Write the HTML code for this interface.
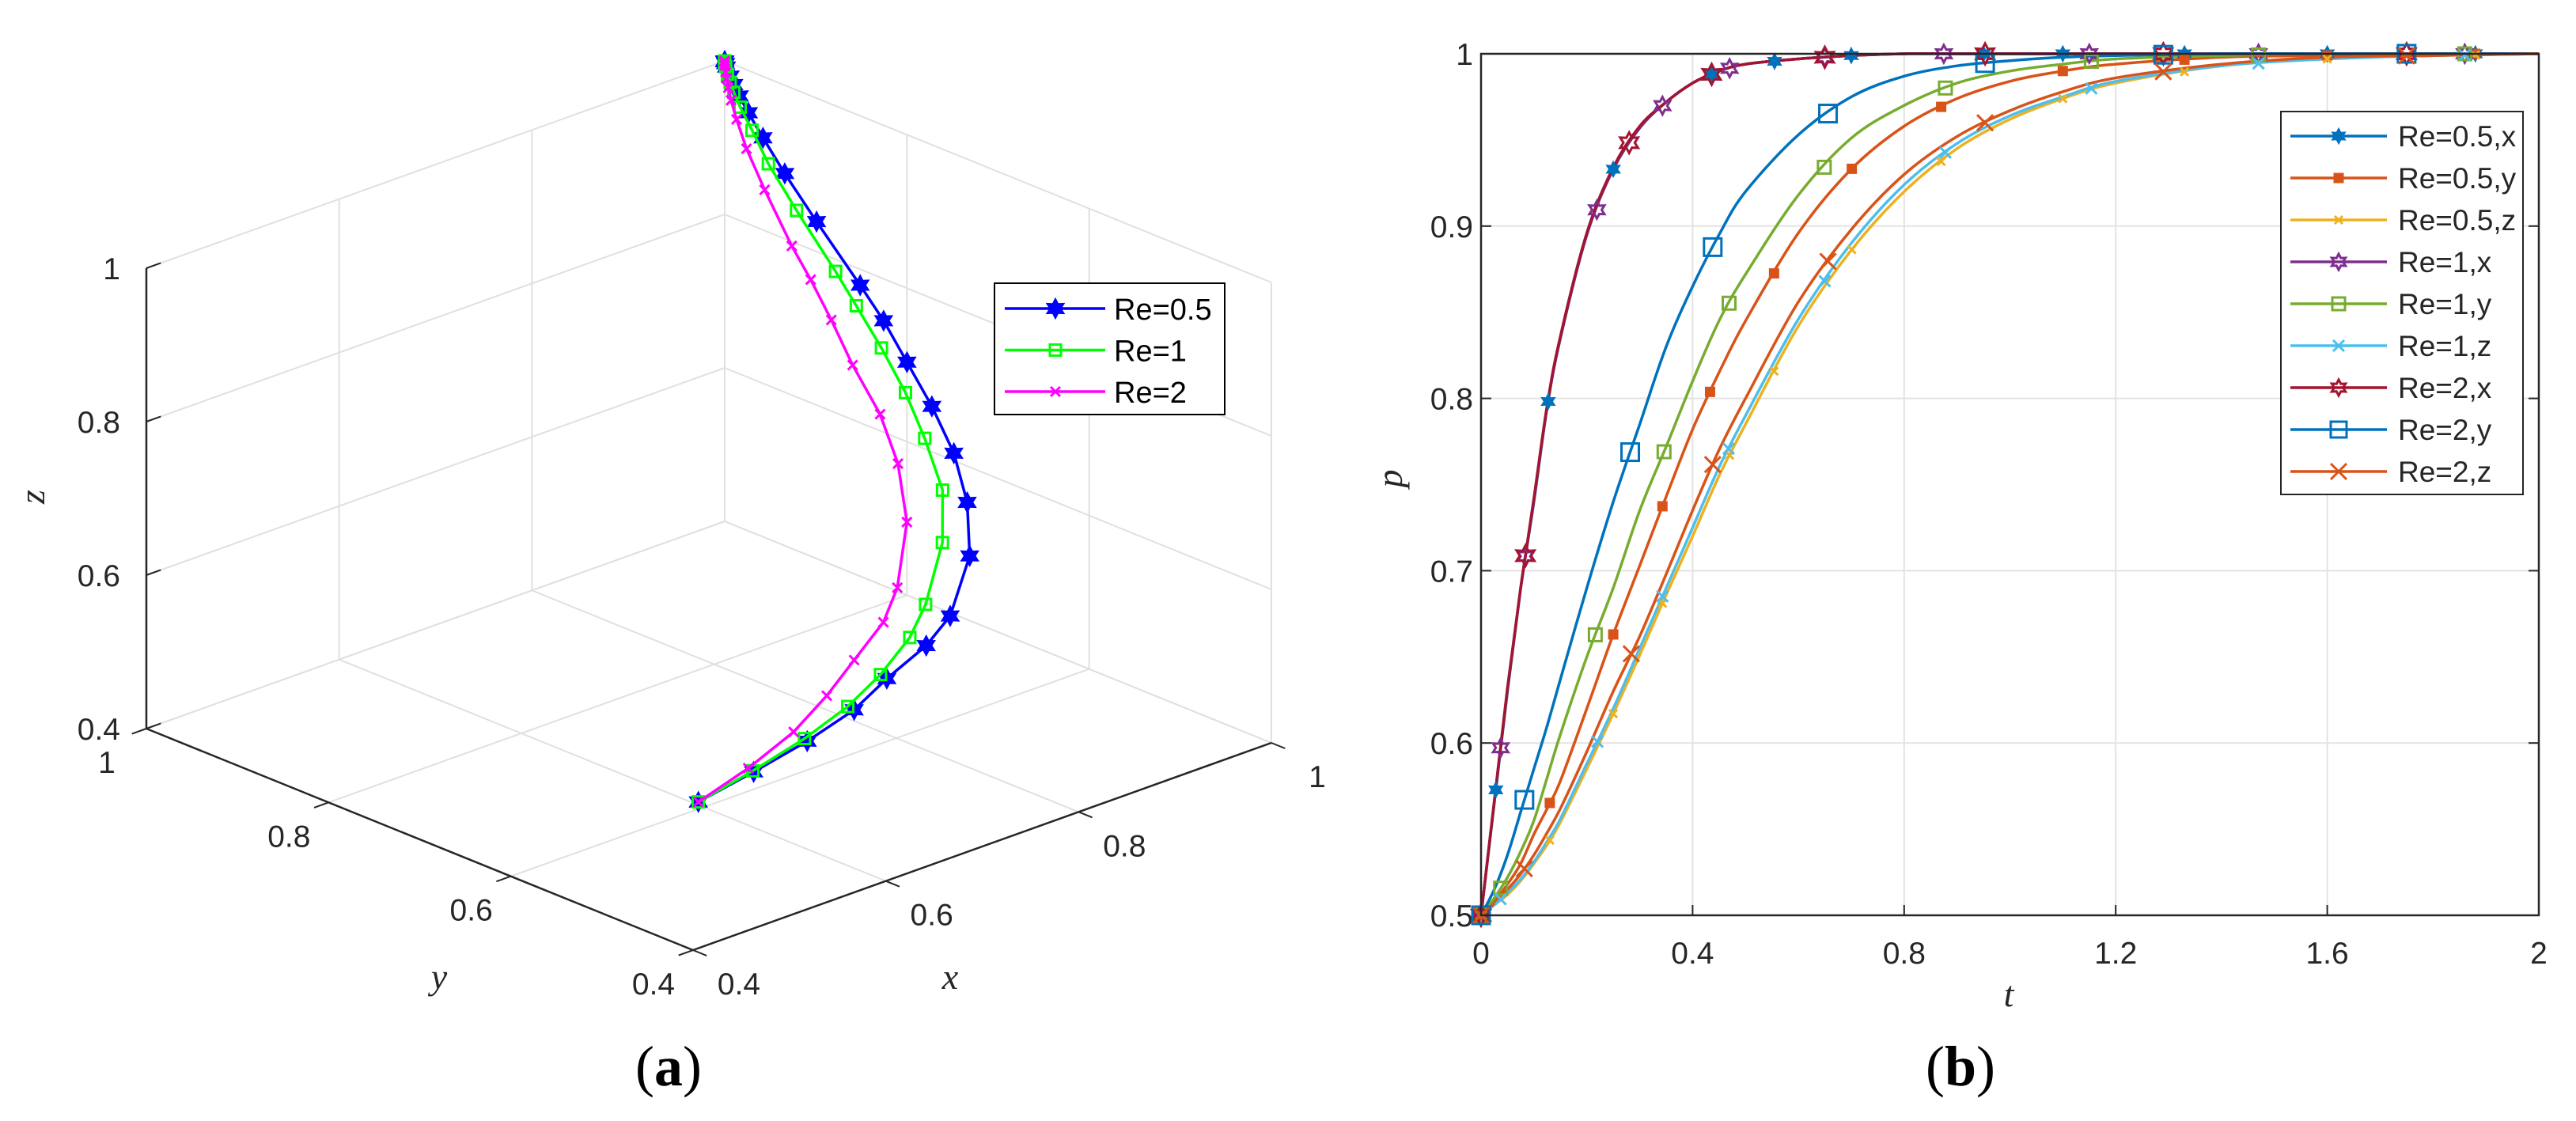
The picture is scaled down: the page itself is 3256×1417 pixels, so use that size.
<!DOCTYPE html>
<html><head><meta charset="utf-8"><style>
html,body{margin:0;padding:0;background:#fff;}
svg{display:block;}
text{font-family:"Liberation Sans",sans-serif;fill:#262626;}
</style></head><body>
<svg id="fig" xmlns="http://www.w3.org/2000/svg" width="3256" height="1417" viewBox="0 0 3256 1417">
<rect width="3256" height="1417" fill="#fff"/>
<g id="panelA"></g>
<g id="panelB"></g>
<text x="845" y="1372" text-anchor="middle" style="font-family:'Liberation Serif',serif;font-size:72px;fill:#000">(<tspan font-weight="bold">a</tspan>)</text>
<text x="2478" y="1372" text-anchor="middle" style="font-family:'Liberation Serif',serif;font-size:72px;fill:#000">(<tspan font-weight="bold">b</tspan>)</text>
</svg>
<script>
// ---- data ----
const tGrid = [0,0.025,0.05,0.075,0.1,0.125,0.15,0.2,0.25,0.3,0.35,0.4,0.45,0.5,0.6,0.7,0.8,0.9,1.0,1.1,1.2,1.4,1.6,1.8,2.0];
const re05x = [0.5,0.565,0.63,0.69,0.74,0.795,0.835,0.895,0.933,0.957,0.972,0.983,0.99,0.994,0.997,0.999,1,1,1,1,1,1,1,1,1];
const re05y = [0.5,0.508,0.518,0.53,0.547,0.562,0.578,0.62,0.663,0.703,0.743,0.782,0.815,0.845,0.896,0.933,0.958,0.974,0.984,0.99,0.994,0.998,0.999,1,1];
const re05z = [0.5,0.506,0.512,0.52,0.53,0.541,0.554,0.585,0.617,0.651,0.686,0.72,0.755,0.785,0.842,0.886,0.92,0.945,0.962,0.974,0.983,0.993,0.997,0.999,1];
const re1x = [0.5,0.566,0.631,0.69,0.741,0.795,0.835,0.895,0.933,0.957,0.972,0.983,0.99,0.994,0.997,0.999,1,1,1,1,1,1,1,1,1];
const re1y = [0.5,0.51,0.522,0.537,0.555,0.58,0.605,0.65,0.69,0.735,0.772,0.81,0.845,0.872,0.918,0.951,0.97,0.983,0.99,0.994,0.997,0.999,1,1,1];
const re1z = [0.5,0.506,0.513,0.521,0.531,0.543,0.556,0.588,0.62,0.655,0.69,0.725,0.76,0.79,0.846,0.89,0.924,0.948,0.964,0.975,0.984,0.993,0.997,0.999,1];
const re2x = [0.5,0.566,0.632,0.69,0.742,0.796,0.836,0.896,0.934,0.958,0.972,0.983,0.99,0.994,0.997,0.999,1,1,1,1,1,1,1,1,1];
const re2y = [0.5,0.515,0.535,0.56,0.585,0.61,0.637,0.69,0.74,0.785,0.83,0.865,0.895,0.92,0.953,0.975,0.987,0.993,0.996,0.998,0.999,1,1,1,1];
const re2z = [0.5,0.507,0.515,0.524,0.535,0.548,0.562,0.595,0.63,0.662,0.698,0.735,0.77,0.80,0.856,0.898,0.93,0.952,0.967,0.978,0.986,0.994,0.998,0.999,1];
const xTicksB = [0,0.4,0.8,1.2,1.6,2];
const xTickLabelsB = ["0","0.4","0.8","1.2","1.6","2"];
const yTicksB = [0.5,0.6,0.7,0.8,0.9,1];
const yTickLabelsB = ["0.5","0.6","0.7","0.8","0.9","1"];
const legendB = ["Re=0.5,x","Re=0.5,y","Re=0.5,z","Re=1,x","Re=1,y","Re=1,z","Re=2,x","Re=2,y","Re=2,z"];
const markerT05x = [0,0.028,0.127,0.25,0.436,0.555,0.7,0.95,1.1,1.33,1.6,1.88];
const markerT05y = [0,0.13,0.25,0.343,0.433,0.554,0.701,0.87,1.1,1.33,1.6,1.88];
const markerT05z = [0,0.13,0.25,0.343,0.47,0.554,0.701,0.87,1.1,1.33,1.6,1.88];
const markerT1x = [0,0.037,0.084,0.219,0.343,0.47,0.65,0.875,1.15,1.47,1.86];
const markerT1y = [0,0.037,0.216,0.346,0.469,0.649,0.878,1.154,1.47,1.86];
const markerT1z = [0,0.037,0.22,0.343,0.468,0.65,0.878,1.154,1.47,1.86];
const markerT2x = [0,0.084,0.28,0.436,0.65,0.953,1.29,1.75];
const markerT2y = [0,0.082,0.282,0.438,0.656,0.953,1.29,1.75];
const markerT2z = [0,0.082,0.284,0.438,0.656,0.953,1.29,1.75];
const zTicksA = [0.4,0.6,0.8,1];
const tickLabelsA = ["0.4","0.6","0.8","1"];
const legendA = ["Re=0.5","Re=1","Re=2"];

const NS = "http://www.w3.org/2000/svg";
function mk(tag, attrs, parent){const e=document.createElementNS(NS,tag);for(const k in attrs)e.setAttribute(k,attrs[k]);parent.appendChild(e);return e;}
function interp(t, arr){
  if(t<=tGrid[0])return arr[0];
  for(let i=1;i<tGrid.length;i++){if(t<=tGrid[i]){const f=(t-tGrid[i-1])/(tGrid[i]-tGrid[i-1]);return arr[i-1]+f*(arr[i]-arr[i-1]);}}
  return arr[arr.length-1];
}
function marker(g, type, cx, cy, s, color){
  let e;
  if(type==="hex"||type==="star"){
    const pts=[];
    for(let i=0;i<12;i++){const a=-Math.PI/2+i*Math.PI/6;const r=i%2===0?s:s*0.55;pts.push((cx+r*Math.cos(a)).toFixed(1)+","+(cy+r*Math.sin(a)).toFixed(1));}
    e=mk("polygon",{points:pts.join(" "),fill:type==="star"?color:"none",stroke:color,"stroke-width":3},g);
  } else if(type==="sq"||type==="sqf"){
    e=mk("rect",{x:cx-s,y:cy-s,width:2*s,height:2*s,fill:type==="sqf"?color:"none",stroke:color,"stroke-width":3},g);
  } else {
    e=mk("path",{d:`M${cx-s},${cy-s}L${cx+s},${cy+s}M${cx-s},${cy+s}L${cx+s},${cy-s}`,stroke:color,"stroke-width":3,fill:"none"},g);
  }
  
  
  return e;
}

// ---- panel B ----
const gB=document.getElementById("panelB");
const L=1872,R=3209,T=68,B=1157;
const X=t=>L+t/2*(R-L);
const Y=p=>B-(p-0.5)/0.5*(B-T);
xTicksB.forEach((t,i)=>{
  if(i>0&&i<xTicksB.length-1){const gl=mk("line",{x1:X(t),x2:X(t),y1:T,y2:B,stroke:"#e3e3e3","stroke-width":2},gB);}
  const tk=mk("line",{x1:X(t),x2:X(t),y1:B,y2:B-13,stroke:"#262626","stroke-width":2},gB);
  
  const tx=mk("text",{x:X(t),y:1218,"text-anchor":"middle","font-size":39},gB);tx.textContent=xTickLabelsB[i];
  
});
yTicksB.forEach((p,i)=>{
  if(i>0&&i<yTicksB.length-1){const gl=mk("line",{x1:L,x2:R,y1:Y(p),y2:Y(p),stroke:"#e3e3e3","stroke-width":2},gB);}
  const tk=mk("line",{x1:L,x2:L+13,y1:Y(p),y2:Y(p),stroke:"#262626","stroke-width":2},gB);
  
  const tk2=mk("line",{x1:R,x2:R-13,y1:Y(p),y2:Y(p),stroke:"#262626","stroke-width":2},gB);
  
  const tx=mk("text",{x:L-10,y:Y(p)+14,"text-anchor":"end","font-size":39},gB);tx.textContent=yTickLabelsB[i];
  
});
const seriesB=[
 {v:re05x,c:"#0072BD",m:"star",s:8,mt:markerT05x},
 {v:re05y,c:"#D95319",m:"sqf",s:5,mt:markerT05y},
 {v:re05z,c:"#EDB120",m:"x",s:5,mt:markerT05z},
 {v:re1x,c:"#7E2F8E",m:"hex",s:11,mt:markerT1x},
 {v:re1y,c:"#77AC30",m:"sq",s:8,mt:markerT1y},
 {v:re1z,c:"#4DBEEE",m:"x",s:7,mt:markerT1z},
 {v:re2x,c:"#A2142F",m:"hex",s:13,mt:markerT2x},
 {v:re2y,c:"#0072BD",m:"sq",s:11,mt:markerT2y},
 {v:re2z,c:"#D95319",m:"x",s:10,mt:markerT2z}
];
// smooth path via Catmull-Rom
function smoothPath(pts){
  let d=`M${pts[0][0].toFixed(1)},${pts[0][1].toFixed(1)}`;
  for(let i=0;i<pts.length-1;i++){
    const p0=pts[Math.max(0,i-1)],p1=pts[i],p2=pts[i+1],p3=pts[Math.min(pts.length-1,i+2)];
    const c1=[p1[0]+(p2[0]-p0[0])/6,p1[1]+(p2[1]-p0[1])/6],c2=[p2[0]-(p3[0]-p1[0])/6,p2[1]-(p3[1]-p1[1])/6];
    d+=`C${c1[0].toFixed(1)},${c1[1].toFixed(1)} ${c2[0].toFixed(1)},${c2[1].toFixed(1)} ${p2[0].toFixed(1)},${p2[1].toFixed(1)}`;
  }
  return d;
}
seriesB.forEach((s,k)=>{
  const pts=tGrid.map((t,i)=>[X(t),Y(s.v[i])]);
  const pa=mk("path",{d:smoothPath(pts),fill:"none",stroke:s.c,"stroke-width":3.5},gB);
  
  
});
seriesB.forEach(s=>{s.mt.forEach(t=>marker(gB,s.m,X(t),Y(interp(t,s.v)),s.s,s.c));});
const box=mk("rect",{x:L,y:T,width:R-L,height:B-T,fill:"none",stroke:"#262626","stroke-width":2.5},gB);

// legend
const lg=mk("g",{},gB);
const lr=mk("rect",{x:2883,y:141,width:306,height:484,fill:"#fff",stroke:"#262626","stroke-width":2},lg);

legendB.forEach((lab,i)=>{
  const y=172+i*53,s=seriesB[i];
  const ln=mk("line",{x1:2895,x2:3017,y1:y,y2:y,stroke:s.c,"stroke-width":3.5},lg);
  
  marker(lg,s.m,2956,y,Math.min(s.s,10),s.c);
  const tx=mk("text",{x:3031,y:y+13,"font-size":37},lg);tx.textContent=lab;
  
});
const xl=mk("text",{x:2539,y:1272,"text-anchor":"middle","font-size":46,style:"font-family:'Liberation Serif',serif;font-style:italic"},gB);xl.textContent="t";

const yl=mk("text",{x:0,y:0,"text-anchor":"middle","font-size":46,transform:"translate(1772,605) rotate(-90)",style:"font-family:'Liberation Serif',serif;font-style:italic"},gB);yl.textContent="p";


// ---- panel A (3D) ----
const gA=document.getElementById("panelA");
function P(x,y,z){const a=(x-0.4)/0.6,b=(y-0.4)/0.6,c=(z-0.4)/0.6;return[876+a*731-b*691,1201-a*262-b*280-c*582];}
function line3(p,q,col,w,name){const a=P(...p),b=P(...q);const l=mk("line",{x1:a[0],y1:a[1],x2:b[0],y2:b[1],stroke:col,"stroke-width":w},gA);}
const gc="#e0e0e0";
[0.4,0.6,0.8,1].forEach(v=>{
  // floor grid
  line3([v,0.4,0.4],[v,1,0.4],gc,2,'floor-gridline');
  line3([0.4,v,0.4],[1,v,0.4],gc,2,'floor-gridline');
  // back wall y=1
  line3([v,1,0.4],[v,1,1],gc,2,'wall-gridline');
  line3([0.4,1,v],[1,1,v],gc,2,'wall-gridline');
  // right wall x=1
  line3([1,v,0.4],[1,v,1],gc,2,'wall-gridline');
  line3([1,0.4,v],[1,1,v],gc,2,'wall-gridline');
});
line3([0.4,1,0.4],[0.4,1,1],"#262626",2.5,'z-axis');
line3([0.4,1,0.4],[0.4,0.4,0.4],"#262626",2.5,'y-axis');
line3([0.4,0.4,0.4],[1,0.4,0.4],"#262626",2.5,'x-axis');
zTicksA.forEach((v,i)=>{
  line3([0.4,1,v],[0.415,1,v],"#262626",2,'z-tick');
  const pz=P(0.4,1,v);
  const tz=mk("text",{x:152,y:pz[1]+14,"text-anchor":"end","font-size":39},gA);tz.textContent=tickLabelsA[i];
  
  line3([0.4,v,0.4],[0.385,v,0.4],"#262626",2,'y-tick');
  const py=P(0.4,v,0.4);
  const ty=mk("text",{x:py[0]-50,y:py[1]+56,"text-anchor":"middle","font-size":39},gA);ty.textContent=tickLabelsA[i];
  
  line3([v,0.4,0.4],[v,0.385,0.4],"#262626",2,'x-tick');
  const px=P(v,0.4,0.4);
  const tx=mk("text",{x:px[0]+58,y:px[1]+56,"text-anchor":"middle","font-size":39},gA);tx.textContent=tickLabelsA[i];
  
});
const ax=mk("text",{x:1201,y:1250,"text-anchor":"middle","font-size":46,style:"font-family:'Liberation Serif',serif;font-style:italic"},gA);ax.textContent="x";

const ay=mk("text",{x:555,y:1250,"text-anchor":"middle","font-size":46,style:"font-family:'Liberation Serif',serif;font-style:italic"},gA);ay.textContent="y";

const az=mk("text",{x:0,y:0,"text-anchor":"middle","font-size":46,transform:"translate(56,628) rotate(-90)",style:"font-family:'Liberation Serif',serif;font-style:italic"},gA);az.textContent="z";

const seriesA=[
 {x:re05x,y:re05y,z:re05z,c:"#0000FF",m:"star",s:11},
 {x:re1x,y:re1y,z:re1z,c:"#00FF00",m:"sq",s:7},
 {x:re2x,y:re2y,z:re2z,c:"#FF00FF",m:"x",s:6}
];
seriesA.forEach((s,k)=>{
  const pts=tGrid.map((t,i)=>P(s.x[i],s.y[i],s.z[i]));
  const pl=mk("polyline",{points:pts.map(p=>p[0].toFixed(1)+","+p[1].toFixed(1)).join(" "),fill:"none",stroke:s.c,"stroke-width":3.5},gA);
  
  
  pts.forEach(p=>marker(gA,s.m,p[0],p[1],s.s,s.c));
});
const la=mk("g",{},gA);
const lra=mk("rect",{x:1257,y:358,width:291,height:166,fill:"#fff",stroke:"#000","stroke-width":2},la);

legendA.forEach((lab,i)=>{
  const y=390+i*52.5,s=seriesA[i];
  const ln=mk("line",{x1:1270,x2:1397,y1:y,y2:y,stroke:s.c,"stroke-width":3.5},la);
  
  marker(la,s.m,1334,y,s.s,s.c);
  const tx=mk("text",{x:1408,y:y+14,"font-size":38,style:"fill:#000"},la);tx.textContent=lab;
  
});
</script>
</body></html>
